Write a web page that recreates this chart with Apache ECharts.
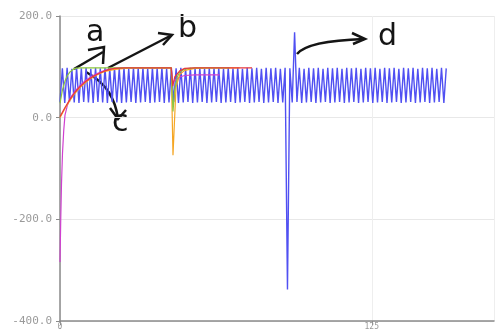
<!DOCTYPE html>
<html>
<head>
<meta charset="utf-8">
<script src="https://cdn.jsdelivr.net/npm/echarts@6/dist/echarts.min.js"></script>
<style>
  html, body { margin: 0; padding: 0; background: #fff; }
  #chart { width: 498px; height: 331px; }
</style>
</head>
<body>
<div id="chart"></div>
<script>
// x range of the plot and tick step
const xMax = 174;
const xStep = 125;

// blue oscillating trace, one value every blueStep units of x
const blueStep = 0.95;
const blueValues = [
  30, 97, 29, 98, 31, 96, 30, 98, 29, 97, 31, 98, 30, 96, 29, 98, 31, 97, 30, 98,
  29, 96, 31, 98, 30, 97, 29, 98, 30, 96, 31, 98, 29, 97, 30, 98, 31, 96, 29, 98,
  30, 97, 31, 98, 29, 96, 30, 98, 31, 97, 29, 98, 30, 96, 31, 98, 29, 97, 30, 98,
  31, 96, 29, 98, 30, 97, 31, 98, 29, 96, 30, 98, 31, 97, 29, 98, 30, 96, 31, 98,
  29, 97, 30, 98, 31, 96, 29, 98, 30, 97, 31, 98, 29, 96, 30, 98, -338, 97, 30, 168,
  31, 98, 29, 96, 30, 98, 31, 97, 29, 98, 30, 96, 31, 98, 29, 97, 30, 98, 31, 96,
  29, 98, 30, 97, 31, 98, 29, 96, 30, 98, 31, 97, 29, 98, 30, 96, 31, 98, 29, 97,
  30, 98, 31, 96, 29, 98, 30, 97, 31, 98, 29, 96, 30, 98, 31, 97, 29, 98, 30, 96,
  31, 98, 29, 97
];

// the four settling traces: [x, y]
const redData = [
  [0, 2], [2, 20], [4, 36], [6, 50], [8, 61], [10, 70], [12, 77], [14, 83], [16, 88],
  [18, 92], [20, 95], [22, 97], [26, 98], [30, 98], [40, 98], [44.6, 98], [45.2, 62], [46, 80],
  [48, 92], [50, 97], [54, 98], [60, 98], [70, 98], [77, 98]
];
const orangeData = [
  [0, 0], [2, 18], [4, 34], [6, 48], [8, 59], [10, 68], [12, 76], [14, 82], [16, 87],
  [18, 91], [22, 95], [28, 98], [44.6, 98], [45.3, -74], [46.5, 60], [48, 85], [50, 93],
  [54, 97], [60, 98], [72, 98]
];
const greenData = [
  [0, 28], [1, 55], [2, 72], [3, 83], [4, 90], [5, 94], [6, 97], [8, 98], [44.6, 98],
  [45.3, 12], [46, 55], [47, 80], [48, 90], [50, 96], [54, 98], [68, 98]
];
const magentaData = [
  [0, -284], [0.3, -200], [0.6, -130], [1, -70], [1.5, -25], [2, 5], [3, 25], [4, 38],
  [6, 52], [8, 63], [10, 72], [12, 79], [14, 85], [16, 89], [18, 93], [20, 96], [24, 98],
  [44.6, 98], [45.2, 70], [46, 72], [48, 80], [50, 83], [54, 84], [64, 84]
];

const blueData = blueValues.map((v, i) => [+(i * blueStep).toFixed(2), v]);

const chart = echarts.init(document.getElementById('chart'), null, { renderer: 'canvas' });

const lineSeries = (name, data, color, z, width) => ({
  name,
  type: 'line',
  data,
  showSymbol: false,
  smooth: false,
  z,
  lineStyle: { color, width: width || 1.2 },
  itemStyle: { color }
});

const ink = '#151515';
const annot = [
  // a
  { type: 'text', left: 86, top: 18, style: { text: 'a', font: '30px "DejaVu Sans"', fill: ink } },
  { type: 'polyline', shape: { points: [[74, 69], [103, 52]] }, style: { stroke: ink, lineWidth: 2.5, fill: null } },
  { type: 'polyline', shape: { points: [[88, 50], [104, 47], [103, 64]] }, style: { stroke: ink, lineWidth: 2.5, fill: null } },
  // b
  { type: 'text', left: 178, top: 14, style: { text: 'b', font: '30px "DejaVu Sans"', fill: ink } },
  { type: 'polyline', shape: { points: [[108, 68], [170, 36]] }, style: { stroke: ink, lineWidth: 2.5, fill: null } },
  { type: 'polyline', shape: { points: [[158, 33], [172, 35], [163, 45]] }, style: { stroke: ink, lineWidth: 2.5, fill: null } },
  // c
  { type: 'text', left: 112, top: 108, style: { text: 'c', font: '30px "DejaVu Sans"', fill: ink } },
  { type: 'bezierCurve', shape: { x1: 86, y1: 72, cpx1: 108, cpy1: 84, cpx2: 115, cpy2: 100, x2: 118, y2: 118 }, style: { stroke: ink, lineWidth: 2.5, fill: null } },
  { type: 'polyline', shape: { points: [[110, 108], [118, 119], [126, 110]] }, style: { stroke: ink, lineWidth: 2.5, fill: null } },
  // d
  { type: 'text', left: 378, top: 22, style: { text: 'd', font: '30px "DejaVu Sans"', fill: ink } },
  { type: 'bezierCurve', shape: { x1: 297, y1: 54, cpx1: 305, cpy1: 44, cpx2: 335, cpy2: 40, x2: 364, y2: 39 }, style: { stroke: ink, lineWidth: 2.5, fill: null } },
  { type: 'polyline', shape: { points: [[352, 33], [365, 39], [353, 44]] }, style: { stroke: ink, lineWidth: 2.5, fill: null } }
];

const option = {
  backgroundColor: '#fff',
  animation: false,
  grid: { left: 60, right: 4, top: 16, bottom: 9 },
  xAxis: {
    type: 'value',
    min: 0,
    max: xMax,
    interval: xStep,
    axisLine: { onZero: false, lineStyle: { color: '#8a8a8a', width: 1.5 } },
    axisTick: { show: true, length: 4, lineStyle: { color: '#8a8a8a' } },
    axisLabel: { color: '#999', fontSize: 8, margin: 2, fontFamily: 'DejaVu Sans Mono', showMaxLabel: false },
    splitLine: { show: true, lineStyle: { color: '#eeeeee' } }
  },
  yAxis: {
    type: 'value',
    min: -400,
    max: 200,
    interval: 200,
    axisLine: { show: true, onZero: false, lineStyle: { color: '#8a8a8a', width: 1.5 } },
    axisTick: { show: true, length: 4, lineStyle: { color: '#8a8a8a' } },
    axisLabel: {
      color: '#9a9a9a', fontSize: 11, margin: 8, fontFamily: 'DejaVu Sans Mono',
      formatter: (v) => v.toFixed(1)
    },
    splitLine: { show: true, lineStyle: { color: '#e8e8e8' } }
  },
  series: [
    lineSeries('blue', blueData, '#5050f2', 2, 1.4),
    lineSeries('magenta', magentaData, '#d040d0', 3),
    lineSeries('orange', orangeData, '#f5a623', 4),
    lineSeries('green', greenData, '#8cc63f', 5),
    lineSeries('red', redData, '#e8383d', 6)
  ],
  graphic: annot
};

chart.setOption(option);
</script>
</body>
</html>
